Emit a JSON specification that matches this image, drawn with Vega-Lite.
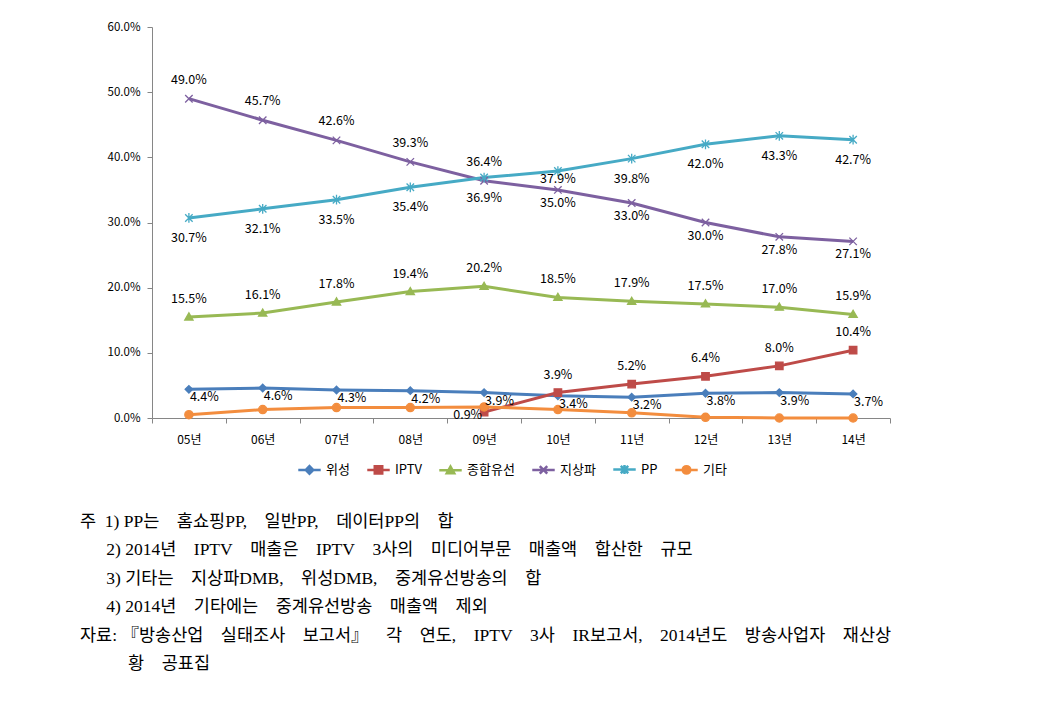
{
  "$schema": "https://vega.github.io/schema/vega-lite/v6.json",
  "width": 738,
  "height": 391,
  "autosize": "none",
  "padding": {"left": 152, "top": 27, "right": 160, "bottom": 290},
  "background": "white",
  "config": {"font": "Noto Sans CJK KR", "view": {"stroke": null}},
  "title": {
    "text": [
      "주\u20021) PP는\u2003홈쇼핑PP,\u2003일반PP,\u2003데이터PP의\u2003합",
      "\u200b\u3000\u20022) 2014년\u2003IPTV\u2003매출은\u2003IPTV\u20033사의\u2003미디어부문\u2003매출액\u2003합산한\u2003규모",
      "\u200b\u3000\u20023) 기타는\u2003지상파DMB,\u2003위성DMB,\u2003중계유선방송의\u2003합",
      "\u200b\u3000\u20024) 2014년\u2003기타에는\u2003중계유선방송\u2003매출액\u2003제외",
      "자료:\u00a0『방송산업\u2003실태조사\u2003보고서』\u2003각\u2003연도,\u2003IPTV\u20033사\u2003IR보고서,\u20032014년도\u2003방송사업자\u2003재산상",
      "\u200b\u3000\u3000\u2002\u00a0황\u2003공표집"
    ],
    "orient": "bottom",
    "anchor": "start",
    "frame": "group",
    "dx": -72,
    "offset": 34,
    "font": "Liberation Serif, Noto Sans CJK KR",
    "fontSize": 17.5,
    "fontWeight": "normal",
    "color": "#000000",
    "lineHeight": 28.4
  },
  "data": {
    "values": [
      {"year": "05년", "series": "위성", "value": 0.044},
      {"year": "06년", "series": "위성", "value": 0.046},
      {"year": "07년", "series": "위성", "value": 0.043},
      {"year": "08년", "series": "위성", "value": 0.042},
      {"year": "09년", "series": "위성", "value": 0.039},
      {"year": "10년", "series": "위성", "value": 0.034},
      {"year": "11년", "series": "위성", "value": 0.032},
      {"year": "12년", "series": "위성", "value": 0.038},
      {"year": "13년", "series": "위성", "value": 0.039},
      {"year": "14년", "series": "위성", "value": 0.037},
      {"year": "09년", "series": "IPTV", "value": 0.009},
      {"year": "10년", "series": "IPTV", "value": 0.039},
      {"year": "11년", "series": "IPTV", "value": 0.052},
      {"year": "12년", "series": "IPTV", "value": 0.064},
      {"year": "13년", "series": "IPTV", "value": 0.080},
      {"year": "14년", "series": "IPTV", "value": 0.104},
      {"year": "05년", "series": "종합유선", "value": 0.155},
      {"year": "06년", "series": "종합유선", "value": 0.161},
      {"year": "07년", "series": "종합유선", "value": 0.178},
      {"year": "08년", "series": "종합유선", "value": 0.194},
      {"year": "09년", "series": "종합유선", "value": 0.202},
      {"year": "10년", "series": "종합유선", "value": 0.185},
      {"year": "11년", "series": "종합유선", "value": 0.179},
      {"year": "12년", "series": "종합유선", "value": 0.175},
      {"year": "13년", "series": "종합유선", "value": 0.170},
      {"year": "14년", "series": "종합유선", "value": 0.159},
      {"year": "05년", "series": "지상파", "value": 0.490},
      {"year": "06년", "series": "지상파", "value": 0.457},
      {"year": "07년", "series": "지상파", "value": 0.426},
      {"year": "08년", "series": "지상파", "value": 0.393},
      {"year": "09년", "series": "지상파", "value": 0.364},
      {"year": "10년", "series": "지상파", "value": 0.350},
      {"year": "11년", "series": "지상파", "value": 0.330},
      {"year": "12년", "series": "지상파", "value": 0.300},
      {"year": "13년", "series": "지상파", "value": 0.278},
      {"year": "14년", "series": "지상파", "value": 0.271},
      {"year": "05년", "series": "PP", "value": 0.307},
      {"year": "06년", "series": "PP", "value": 0.321},
      {"year": "07년", "series": "PP", "value": 0.335},
      {"year": "08년", "series": "PP", "value": 0.354},
      {"year": "09년", "series": "PP", "value": 0.369},
      {"year": "10년", "series": "PP", "value": 0.379},
      {"year": "11년", "series": "PP", "value": 0.398},
      {"year": "12년", "series": "PP", "value": 0.420},
      {"year": "13년", "series": "PP", "value": 0.433},
      {"year": "14년", "series": "PP", "value": 0.427},
      {"year": "05년", "series": "기타", "value": 0.005},
      {"year": "06년", "series": "기타", "value": 0.013},
      {"year": "07년", "series": "기타", "value": 0.016},
      {"year": "08년", "series": "기타", "value": 0.016},
      {"year": "09년", "series": "기타", "value": 0.017},
      {"year": "10년", "series": "기타", "value": 0.013},
      {"year": "11년", "series": "기타", "value": 0.008},
      {"year": "12년", "series": "기타", "value": 0.001},
      {"year": "13년", "series": "기타", "value": 0.000},
      {"year": "14년", "series": "기타", "value": 0.000}
    ]
  },
  "encoding": {
    "x": {
      "field": "year",
      "type": "ordinal",
      "bandPosition": 0.5,
      "scale": {"type": "band", "paddingInner": 0, "paddingOuter": 0},
      "axis": {
        "title": null,
        "labelAngle": 0,
        "tickBand": "extent",
        "domainColor": "#868686",
        "tickColor": "#868686",
        "tickSize": 5,
        "labelFontSize": 12,
        "labelPadding": 11,
        "labelColor": "#000000",
        "grid": false
      }
    },
    "y": {
      "field": "value",
      "type": "quantitative",
      "scale": {"domain": [0, 0.6], "nice": false},
      "axis": {
        "title": null,
        "values": [0, 0.1, 0.2, 0.3, 0.4, 0.5, 0.6],
        "format": ".1%",
        "grid": false,
        "domainColor": "#868686",
        "tickColor": "#868686",
        "tickSize": 5,
        "labelFontSize": 11.5,
        "labelPadding": 7,
        "labelColor": "#000000"
      }
    }
  },
  "layer": [
    {
      "mark": {"type": "line", "strokeWidth": 3},
      "encoding": {
        "color": {
          "field": "series",
          "type": "nominal",
          "scale": {
            "domain": ["위성", "IPTV", "종합유선", "지상파", "PP", "기타"],
            "range": ["#4A7EBB", "#BE4B48", "#98B954", "#7D60A0", "#46AAC5", "#F38D3E"]
          },
          "legend": {
            "orient": "none",
            "legendX": 151,
            "legendY": 436,
            "direction": "horizontal",
            "title": null,
            "labelFontSize": 13,
            "labelColor": "#000000",
            "symbolSize": 56,
            "symbolStrokeWidth": 2.5,
            "labelOffset": 10,
            "columnPadding": 12,
            "encode": {
              "symbols": {
                "update": {
                  "shape": {"signal": "datum.value === '위성' ? 'M-3,0L3,0M0,-1L1,0L0,1L-1,0Z' : datum.value === 'IPTV' ? 'M-3,0L3,0M-1,-1L1,-1L1,1L-1,1Z' : datum.value === '종합유선' ? 'M-3,0L3,0M0,-1L1,0.8L-1,0.8Z' : datum.value === '지상파' ? 'M-3,0L3,0M-1,-1L1,1M1,-1L-1,1' : datum.value === 'PP' ? 'M-3,0L3,0M-1,-1L1,1M1,-1L-1,1M0,-1.2L0,1.2' : 'M-3,0L3,0M1,0A1,1,0,1,1,-1,0A1,1,0,1,1,1,0Z'"},
                  "fill": {"scale": "color", "field": "value"},
                  "stroke": {"scale": "color", "field": "value"},
                  "opacity": {"value": 1},
                  "strokeWidth": {"value": 2.5}
                }
              }
            }
          }
        }
      }
    },
    {
      "transform": [{"filter": "datum.series === '위성'"}],
      "mark": {"type": "point", "shape": "M0,-1L1,0L0,1L-1,0Z", "filled": true, "fill": "#4A7EBB", "stroke": "#4A7EBB", "size": 56, "strokeWidth": 1.3, "opacity": 1}
    },
    {
      "transform": [{"filter": "datum.series === 'IPTV'"}],
      "mark": {"type": "point", "shape": "M-1,-1L1,-1L1,1L-1,1Z", "filled": true, "fill": "#BE4B48", "stroke": "#BE4B48", "size": 56, "strokeWidth": 1.3, "opacity": 1}
    },
    {
      "transform": [{"filter": "datum.series === '종합유선'"}],
      "mark": {"type": "point", "shape": "M0,-1.1L1.1,0.8L-1.1,0.8Z", "filled": true, "fill": "#98B954", "stroke": "#98B954", "size": 56, "strokeWidth": 1.3, "opacity": 1}
    },
    {
      "transform": [{"filter": "datum.series === '지상파'"}],
      "mark": {"type": "point", "shape": "M-1,-1L1,1M1,-1L-1,1", "filled": true, "fill": "#7D60A0", "stroke": "#7D60A0", "size": 56, "strokeWidth": 1.3, "opacity": 1}
    },
    {
      "transform": [{"filter": "datum.series === 'PP'"}],
      "mark": {"type": "point", "shape": "M-1,-1L1,1M1,-1L-1,1M0,-1.3L0,1.3", "filled": true, "fill": "#46AAC5", "stroke": "#46AAC5", "size": 56, "strokeWidth": 1.3, "opacity": 1}
    },
    {
      "transform": [{"filter": "datum.series === '기타'"}],
      "mark": {"type": "point", "shape": "M1.1,0A1.1,1.1,0,1,1,-1.1,0A1.1,1.1,0,1,1,1.1,0Z", "filled": true, "fill": "#F38D3E", "stroke": "#F38D3E", "size": 56, "strokeWidth": 1.3, "opacity": 1}
    },
    {
      "transform": [{"filter": "datum.series === '위성'"}],
      "mark": {"type": "text", "fontSize": 12.5, "color": "#000000", "align": "left", "baseline": "middle", "dx": 1, "dy": 8},
      "encoding": {"text": {"field": "value", "type": "quantitative", "format": ".1%"}}
    },
    {
      "transform": [{"filter": "datum.series === 'IPTV' && datum.year !== '09년'"}],
      "mark": {"type": "text", "fontSize": 12.5, "color": "#000000", "align": "center", "baseline": "middle", "dy": -18},
      "encoding": {"text": {"field": "value", "type": "quantitative", "format": ".1%"}}
    },
    {
      "transform": [{"filter": "datum.series === 'IPTV' && datum.year === '09년'"}],
      "mark": {"type": "text", "fontSize": 12.5, "color": "#000000", "align": "right", "baseline": "middle", "dx": -2, "dy": 3},
      "encoding": {"text": {"field": "value", "type": "quantitative", "format": ".1%"}}
    },
    {
      "transform": [{"filter": "datum.series === '종합유선'"}],
      "mark": {"type": "text", "fontSize": 12.5, "color": "#000000", "align": "center", "baseline": "middle", "dy": -18},
      "encoding": {"text": {"field": "value", "type": "quantitative", "format": ".1%"}}
    },
    {
      "transform": [{"filter": "datum.series === '지상파' && indexof(['05년','06년','07년','08년','09년'], datum.year) >= 0"}],
      "mark": {"type": "text", "fontSize": 12.5, "color": "#000000", "align": "center", "baseline": "middle", "dy": -19},
      "encoding": {"text": {"field": "value", "type": "quantitative", "format": ".1%"}}
    },
    {
      "transform": [{"filter": "datum.series === '지상파' && indexof(['05년','06년','07년','08년','09년'], datum.year) < 0"}],
      "mark": {"type": "text", "fontSize": 12.5, "color": "#000000", "align": "center", "baseline": "middle", "dy": 13},
      "encoding": {"text": {"field": "value", "type": "quantitative", "format": ".1%"}}
    },
    {
      "transform": [{"filter": "datum.series === 'PP' && datum.year !== '10년'"}],
      "mark": {"type": "text", "fontSize": 12.5, "color": "#000000", "align": "center", "baseline": "middle", "dy": 20},
      "encoding": {"text": {"field": "value", "type": "quantitative", "format": ".1%"}}
    },
    {
      "transform": [{"filter": "datum.series === 'PP' && datum.year === '10년'"}],
      "mark": {"type": "text", "fontSize": 12.5, "color": "#000000", "align": "center", "baseline": "middle", "dy": 8},
      "encoding": {"text": {"field": "value", "type": "quantitative", "format": ".1%"}}
    }
  ]
}
